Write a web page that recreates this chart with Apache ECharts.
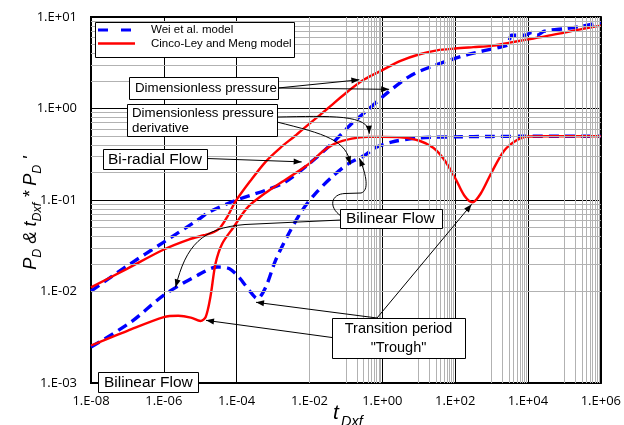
<!DOCTYPE html>
<html><head><meta charset="utf-8">
<script src="https://cdn.jsdelivr.net/npm/echarts@6/dist/echarts.min.js"></script>
<style>html,body{margin:0;padding:0;background:#fff}#c{width:624px;height:425px}</style>
</head><body><div id="c"></div>
<script>
// ---- data ----
// Wei et al. model, dimensionless pressure
const weiPdT = [1e-8, 1e-7, 1e-6, 8.3e-6, 1.78e-5, 1e-4, 6.3e-4, 2.2e-3, 1e-2, 0.041, 0.145, 0.412, 1.45, 6.3, 27.5, 219, 1780, 2820, 3550, 7940, 12600, 17800, 28200, 117500, 316000, 1e6];
const weiPdP = [0.0101, 0.0191, 0.0347, 0.060, 0.0741, 0.100, 0.128, 0.158, 0.251, 0.413, 0.684, 0.977, 1.51, 2.31, 2.96, 3.88, 4.70, 5.01, 6.31, 6.31, 6.76, 6.31, 7.0, 7.5, 7.94, 8.71];
// Wei et al. model, pressure derivative
const weiDerT = [1e-8, 1.26e-7, 1e-6, 8.3e-6, 2.95e-5, 6.2e-5, 1.2e-4, 2.2e-4, 3.7e-4, 6.3e-4, 1.17e-3, 2.7e-3, 6.3e-3, 1.45e-2, 4.1e-2, 0.117, 0.33, 0.63, 1.78, 9.5, 100, 1000, 1e4, 1e6];
const weiDerP = [0.00247, 0.00465, 0.00912, 0.0150, 0.0185, 0.0178, 0.0141, 0.0103, 0.00836, 0.0112, 0.0219, 0.0430, 0.0771, 0.1175, 0.178, 0.250, 0.308, 0.372, 0.43, 0.476, 0.49, 0.495, 0.497, 0.497];
// Cinco-Ley and Meng model, dimensionless pressure
const cincoPdT = [1e-8, 1e-7, 1e-6, 5e-6, 1.26e-5, 2.4e-5, 3.55e-5, 5.5e-5, 9.5e-5, 2.5e-4, 6.3e-4, 1.58e-3, 3.98e-3, 1e-2, 3.16e-2, 0.1, 0.316, 1, 3.16, 10, 31.6, 100, 316, 1000, 3162, 1e4, 31623, 1e5, 316228, 1e6];
const cincoPdP = [0.0111, 0.0178, 0.0288, 0.0372, 0.0412, 0.0447, 0.0501, 0.0652, 0.0977, 0.166, 0.263, 0.372, 0.501, 0.684, 1.0, 1.479, 2.07, 2.63, 3.31, 3.89, 4.32, 4.52, 4.68, 4.84, 5.25, 5.69, 6.17, 6.76, 7.41, 8.04];
// Cinco-Ley and Meng model, pressure derivative
const cincoDerT = [1e-8, 1e-7, 1e-6, 2.5e-6, 5.5e-6, 1.02e-5, 1.41e-5, 1.9e-5, 2.63e-5, 4e-5, 8.3e-5, 2e-4, 6.3e-4, 1.78e-3, 1e-2, 2.2e-2, 5e-2, 0.145, 0.4, 1, 3.16, 10, 25, 50, 100, 178, 300, 500, 1000, 2240, 5000, 1e4, 1e5, 1e6];
const cincoDerP = [0.00257, 0.00372, 0.00525, 0.00543, 0.00519, 0.00476, 0.00526, 0.0087, 0.0202, 0.0333, 0.0507, 0.0832, 0.120, 0.158, 0.251, 0.335, 0.413, 0.469, 0.49, 0.49, 0.484, 0.447, 0.372, 0.275, 0.174, 0.112, 0.0944, 0.117, 0.20, 0.347, 0.452, 0.495, 0.497, 0.497];

const xMin = 1e-8, xMax = 1e6, yMin = 1e-3, yMax = 10;
const legendNames = ['Wei et al. model', 'Cinco-Ley and Meng model'];

// annotation anchor points (data coordinates the arrows point at)
const tipPdRed = [0.234, 2.06];
const tipPdBlue = [1.54, 1.62];
const tipDerRed = [0.438, 0.53];
const tipDerBlue = [0.133, 0.245];
const tipBiradial = [0.0061, 0.261];
const tipBilinBlue1 = [2.09e-6, 0.0111];
const tipBilinBlue2 = [0.234, 0.286];
const tipTroughRed = [284, 0.0897];
const tipTroughBlue = [3.4e-4, 0.00762];
const tipTroughRed2 = [1.44e-5, 0.00484];

// ---- chart ----
function pairs(t, p) { return t.map((v, i) => [v, p[i]]); }
function expLabel(v) {
  const e = Math.round(Math.log10(v));
  return '1.E' + (e < 0 ? '-' : '+') + String(Math.abs(e)).padStart(2, '0');
}
const xMinor = [];
[-7, -5, -3, -1, 1, 3, 5].forEach(k => { for (let m = 1; m <= 9; m++) xMinor.push(m * Math.pow(10, k)); });
const yMinor = [];
for (let k = -3; k <= 0; k++) for (let m = 2; m <= 9; m++) yMinor.push(m * Math.pow(10, k));

const chart = echarts.init(document.getElementById('c'), null, { renderer: 'canvas' });
const labelFont = 'Open Sans';
const redC = '#ff0000', blueC = '#0000ff';
chart.setOption({
  animation: false,
  grid: { left: 91, top: 17, width: 513, height: 366, show: true, borderColor: '#000', borderWidth: 2, backgroundColor: '#fff' },
  xAxis: {
    type: 'log', logBase: 100, min: xMin, max: xMax,
    axisLine: { show: true, lineStyle: { color: '#000', width: 2 } },
    axisTick: { show: false },
    axisLabel: { formatter: expLabel, color: '#000', fontFamily: labelFont, fontSize: 13, margin: 12 },
    splitLine: { show: true, lineStyle: { color: '#000', width: 1 } },
    minorTick: { show: false }, minorSplitLine: { show: false }
  },
  yAxis: {
    type: 'log', logBase: 10, min: yMin, max: yMax,
    axisLine: { show: true, lineStyle: { color: '#000', width: 2 } },
    axisTick: { show: false },
    axisLabel: { formatter: expLabel, color: '#000', fontFamily: labelFont, fontSize: 13, margin: 14 },
    splitLine: { show: true, lineStyle: { color: '#000', width: 1 } }
  },
  series: [
    {
      type: 'line', name: 'minorGrid', data: [[xMin, yMin]], symbol: 'none', lineStyle: { width: 0 }, z: 1, silent: true,
      markLine: {
        silent: true, symbol: ['none', 'none'], label: { show: false }, animation: false,
        lineStyle: { color: '#b2b2b2', width: 1, type: 'solid' },
        emphasis: { disabled: true },
        data: xMinor.map(v => ({ xAxis: v })).concat(yMinor.map(v => ({ yAxis: v })))
      }
    },
    { type: 'line', name: legendNames[0], data: pairs(weiPdT, weiPdP), symbol: 'none', smooth: 0.3, lineStyle: { color: blueC, width: 3.4, type: [10, 6] }, z: 3 },
    { type: 'line', name: legendNames[0] + ' derivative', data: pairs(weiDerT, weiDerP), symbol: 'none', smooth: 0.3, lineStyle: { color: blueC, width: 3.4, type: [10, 6] }, z: 3 },
    { type: 'line', name: legendNames[1], data: pairs(cincoPdT, cincoPdP), symbol: 'none', smooth: 0.3, lineStyle: { color: redC, width: 2.4 }, z: 4 },
    { type: 'line', name: legendNames[1] + ' derivative', data: pairs(cincoDerT, cincoDerP), symbol: 'none', smooth: 0.3, lineStyle: { color: redC, width: 2.4 }, z: 4 }
  ]
});

// ---- annotations ----
const F = 'Liberation Sans';
const px = p => chart.convertToPixel({ xAxisIndex: 0, yAxisIndex: 0 }, p);
function head(tip, from) {
  const dx = tip[0] - from[0], dy = tip[1] - from[1], L = Math.hypot(dx, dy) || 1;
  const ux = dx / L, uy = dy / L, len = 8, w = 3;
  const bx = tip[0] - ux * len, by = tip[1] - uy * len;
  return { type: 'polygon', z: 102, silent: true, shape: { points: [tip, [bx - uy * w, by + ux * w], [bx + uy * w, by - ux * w]] }, style: { fill: '#000' } };
}
function seg(a, b) { return { type: 'line', z: 101, silent: true, shape: { x1: a[0], y1: a[1], x2: b[0], y2: b[1] }, style: { stroke: '#000', lineWidth: 1, fill: null } }; }
function bez(a, c1, c2, b) { return { type: 'bezierCurve', z: 101, silent: true, shape: { x1: a[0], y1: a[1], cpx1: c1[0], cpy1: c1[1], cpx2: c2[0], cpy2: c2[1], x2: b[0], y2: b[1] }, style: { stroke: '#000', lineWidth: 1, fill: null } }; }
function rect(x, y, w, h) { return { type: 'rect', z: 103, silent: true, shape: { x: x + 0.5, y: y + 0.5, width: w, height: h }, style: { fill: '#fff', stroke: '#000', lineWidth: 1 } }; }
function txt(x, y, s, size, align) {
  align = align || 'left';
  return { type: 'text', z: 104, silent: true, x: x, y: y, style: { text: s, fontSize: size, fontFamily: F, fill: '#000', textAlign: align, align: align, textVerticalAlign: 'middle', verticalAlign: 'middle' } };
}

const g = [];
// legend
g.push(rect(95, 22, 199, 35));
g.push({ type: 'line', z: 104, silent: true, shape: { x1: 98, y1: 30, x2: 131, y2: 30 }, style: { stroke: blueC, lineWidth: 2.8, lineDash: [10, 13] } });
g.push({ type: 'line', z: 104, silent: true, shape: { x1: 98, y1: 43.5, x2: 135, y2: 43.5 }, style: { stroke: redC, lineWidth: 2.6 } });
g.push(txt(151, 30, legendNames[0], 11.5));
g.push(txt(151, 43.5, legendNames[1], 11.5));

// Dimensionless pressure
let t1 = px(tipPdRed), t2 = px(tipPdBlue);
g.push(seg([278, 88], t1), head(t1, [278, 88]));
g.push(seg([278, 88], t2), head(t2, [278, 88]));
g.push(rect(129, 77, 149, 22), txt(135, 88.5, 'Dimensionless pressure', 13.3));

// Dimensionless pressure derivative
let t3 = px(tipDerRed), t4 = px(tipDerBlue);
g.push(bez([277, 117], [330, 116], [370, 114], t3), head(t3, [t3[0] - 0.5, t3[1] - 10]));
g.push(bez([277, 122], [325, 134], [347, 140], t4), head(t4, [t4[0] - 3, t4[1] - 10]));
g.push(rect(127, 104, 150, 32), txt(132, 113.5, 'Dimensionless pressure', 13.3), txt(132, 128.5, 'derivative', 13.3));

// Bi-radial Flow
let t5 = px(tipBiradial);
g.push(seg([207, 158.5], t5), head(t5, [207, 158.5]));
g.push(rect(103, 149, 104, 20), txt(108, 159.5, 'Bi-radial Flow', 15.5));

// Bilinear Flow (middle)
let t6 = px(tipBilinBlue1), t7 = px(tipBilinBlue2);
g.push(seg([341, 220], [245, 224.5]));
g.push(bez([245, 224.5], [202, 228], [186, 245], t6), head(t6, [181, 268]));
g.push(bez([341, 216], [328, 207], [331, 194], [345, 193.5]));
g.push(seg([345, 193.5], [361, 193]));
g.push(bez([361, 193], [369, 191], [367, 176], t7), head(t7, [365, 172]));
g.push(rect(340, 209, 102, 19), txt(346, 219, 'Bilinear Flow', 15.5));

// Transition period "Trough"
let t8 = px(tipTroughRed), t9 = px(tipTroughBlue), t10 = px(tipTroughRed2);
g.push(seg([377, 318], t8), head(t8, [377, 318]));
g.push(seg([377, 318], t9), head(t9, [377, 318]));
g.push(seg([332, 337.5], t10), head(t10, [332, 337.5]));
g.push(rect(332, 318, 133, 40), txt(398.5, 328.5, 'Transition period', 14.5, 'center'), txt(398.5, 347.5, '"Trough"', 14.5, 'center'));

// Bilinear Flow (bottom-left)
g.push(rect(98, 372, 100, 20), txt(104, 382.5, 'Bilinear Flow', 15.5));

// axis titles
g.push({ type: 'text', z: 104, silent: true, x: 333, y: 424, style: { text: 't', fontSize: 21, fontStyle: 'italic', fontFamily: F, fill: '#000', textAlign: 'left', align: 'left', textVerticalAlign: 'bottom', verticalAlign: 'bottom' } });
g.push({ type: 'text', z: 104, silent: true, x: 341, y: 414, style: { text: 'Dxf', fontSize: 14.5, fontStyle: 'italic', fontFamily: F, fill: '#000', textAlign: 'left', align: 'left', textVerticalAlign: 'top', verticalAlign: 'top' } });
g.push({
  type: 'text', z: 104, silent: true, x: 31, y: 213, rotation: Math.PI / 2,
  style: {
    text: "{m|P}{s|D}{m| & t}{s|Dxf}{m| * P}{s|D}{m| '}",
    textAlign: 'center', align: 'center', textVerticalAlign: 'middle', verticalAlign: 'middle', fill: '#000',
    rich: {
      m: { fontSize: 18, fontStyle: 'italic', fontFamily: F, lineHeight: 26, fill: '#000' },
      s: { fontSize: 12.5, fontStyle: 'italic', fontFamily: F, lineHeight: 13, verticalAlign: 'bottom', fill: '#000' }
    }
  }
});

chart.setOption({ graphic: { elements: g } });
</script>
</body></html>
